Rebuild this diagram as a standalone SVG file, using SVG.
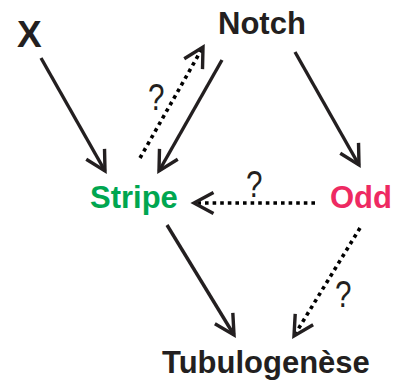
<svg xmlns="http://www.w3.org/2000/svg" width="401" height="387" viewBox="0 0 401 387">
<defs>
<style>
.lbl{font-family:"Liberation Sans",Arial,sans-serif;font-weight:bold;font-size:31px;fill:#231f20}
.q{font-family:"Liberation Sans",Arial,sans-serif;font-size:37px;fill:#231f20}
.solid{stroke:#231f20;stroke-width:3.4;fill:none}
.dot{stroke:#000;stroke-width:3.6;fill:none;stroke-dasharray:3.6 4}
</style>
<marker id="ah" markerUnits="userSpaceOnUse" viewBox="-24 -14 28 28" refX="0" refY="0" markerWidth="28" markerHeight="28" orient="auto">
<path d="M-19.5,-10.5 L0,0 L-19.5,10.5" fill="none" stroke="#231f20" stroke-width="3.4"/>
</marker>
</defs>
<rect width="401" height="387" fill="#fff"/>
<g id="connectors">
<line class="solid" x1="41" y1="58" x2="105" y2="171" marker-end="url(#ah)"/>
<line class="solid" x1="222" y1="60" x2="159" y2="171" marker-end="url(#ah)"/>
<line class="dot" x1="140" y1="158" x2="203" y2="47" marker-end="url(#ah)"/>
<line class="solid" x1="295" y1="52" x2="359" y2="165" marker-end="url(#ah)"/>
<line class="dot" x1="315" y1="203" x2="194" y2="203" marker-end="url(#ah)"/>
<line class="solid" x1="167" y1="225" x2="234" y2="335" marker-end="url(#ah)"/>
<line class="dot" x1="360" y1="228" x2="294" y2="336" marker-end="url(#ah)"/>
<text class="q" transform="translate(148,110) scale(0.8,1)">?</text>
<text class="q" transform="translate(246,197) scale(0.8,1)">?</text>
<text class="q" transform="translate(335,307) scale(0.8,1)">?</text>
</g>
<g id="node-x"><text class="lbl" style="font-size:37px" x="17" y="47">X</text></g>
<g id="node-notch"><text class="lbl" x="218" y="34">Notch</text></g>
<g id="node-stripe"><text class="lbl" style="fill:#00a650" x="90" y="208">Stripe</text></g>
<g id="node-odd"><text class="lbl" style="fill:#ee2a62" x="330" y="208">Odd</text></g>
<g id="node-tubulogenese"><text class="lbl" x="162" y="373">Tubulogenèse</text></g>
</svg>
